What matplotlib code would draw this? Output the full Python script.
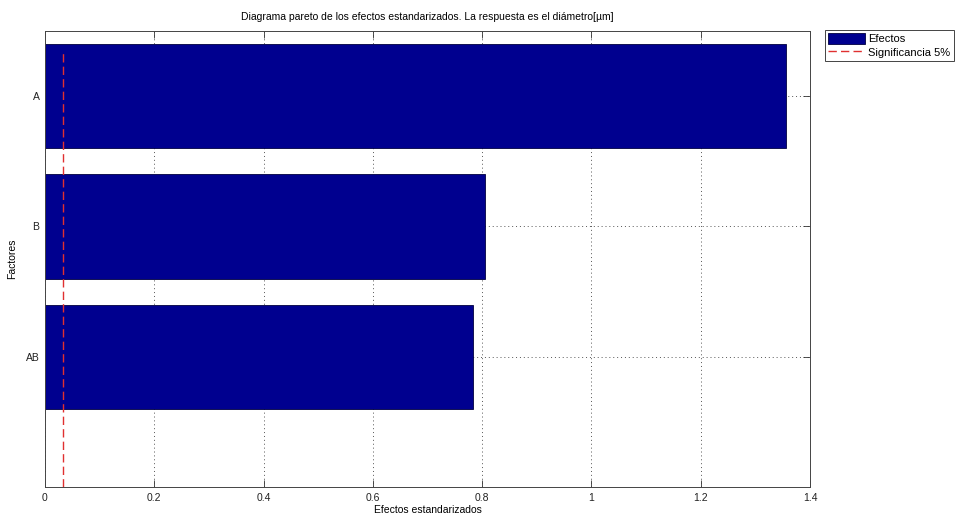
import numpy as np
import matplotlib.pyplot as plt

# factores y efectos estandarizados
factores = ['AB', 'B', 'A']
efectos = [0.783, 0.805, 1.356]
pos = [1, 2, 3]

# limite de significancia al 5%
sig_x = [0.033, 0.033]
sig_y = [0, 3.35]

plt.rcParams['font.family'] = ['Liberation Sans', 'DejaVu Sans']
plt.rcParams['font.size'] = 7.5

fig = plt.figure(figsize=(9.58, 5.19), dpi=100)
ax = fig.add_axes([45/958, 1 - 487/519, (810 - 45)/958, (487 - 31)/519])

barras = ax.barh(pos, efectos, height=0.8, color='#00008f', edgecolor='#000040',
                 linewidth=0.6, label='Efectos', zorder=2)
linea, = ax.plot(sig_x, sig_y, color='#e03030', linestyle=(0, (6, 3)), linewidth=1.0,
                 label='Significancia 5%', zorder=3)

ax.set_xlim(0, 1.4)
ax.set_ylim(0, 3.5)
ax.set_xticks(np.arange(0, 1.41, 0.2))
ax.set_xticklabels(['0', '0.2', '0.4', '0.6', '0.8', '1', '1.2', '1.4'])
ax.set_yticks(pos)
ax.set_yticklabels(factores)

ax.set_axisbelow(True)
ax.grid(True, linestyle=(0, (1, 3)), color='#555555', linewidth=0.7)
ax.tick_params(direction='in', length=5, width=0.6, top=True, right=True,
               colors='#333333', labelcolor='#222222', pad=4)
for s in ax.spines.values():
    s.set_color('#444444')
    s.set_linewidth(0.7)

ax.set_title('Diagrama pareto de los efectos estandarizados. La respuesta es el diámetro[µm]',
             fontsize=7.5, pad=8)
ax.set_xlabel('Efectos estandarizados', labelpad=2)
ax.set_ylabel('Factores', labelpad=6)

leg = fig.legend([barras, linea], ['Efectos', 'Significancia 5%'],
                 loc='upper left', bbox_to_anchor=(825/958, 1 - 30/519),
                 fancybox=False, framealpha=1, edgecolor='#444444', fontsize=8,
                 handlelength=3.3, handleheight=1.1, handletextpad=0.3,
                 borderpad=0.3, labelspacing=0.2, borderaxespad=0)
leg.get_frame().set_linewidth(0.7)

fig.savefig('out.png', dpi=100)
